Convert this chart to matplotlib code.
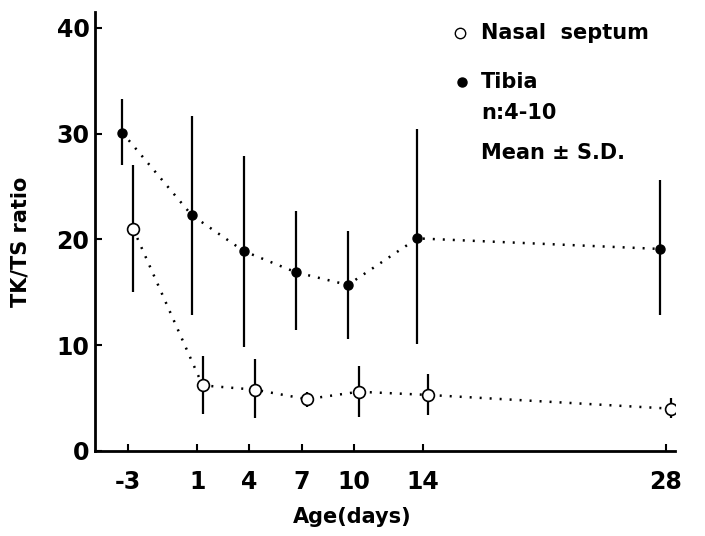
import numpy as np
import matplotlib
matplotlib.use('Agg')
import matplotlib.pyplot as plt

# Age (days) and TK/TS ratio
ages = [-3, 1, 4, 7, 10, 14, 28]
age_ticks = [-3, 1, 4, 7, 10, 14, 28]
y_ticks = [0, 10, 20, 30, 40]

tibia_mean = [30.1, 22.3, 18.9, 16.9, 15.7, 20.1, 19.1]
tibia_hi = [33.3, 31.7, 27.9, 22.7, 20.8, 30.4, 25.6]
tibia_lo = [27.0, 12.9, 9.8, 11.4, 10.6, 10.1, 12.9]

nasal_mean = [21.0, 6.2, 5.8, 4.9, 5.6, 5.3, 4.0]
nasal_hi = [27.0, 9.0, 8.7, 5.6, 8.0, 7.3, 5.0]
nasal_lo = [15.0, 3.5, 3.1, 4.2, 3.2, 3.4, 3.1]

plt.rcParams['font.family'] = ['DejaVu Sans']
plt.rcParams['font.weight'] = 'bold'

fig = plt.figure(figsize=(7.05, 5.36), dpi=100)
ax = fig.add_axes([0.1348, 0.1586, 0.822, 0.819])

# small horizontal offsets so the two series do not overlap
off_t = -0.33
off_n = 0.3
xt = np.array(ages) + off_t
xn = np.array(ages) + off_n

dots = (0, (0.8, 3.2))

# Tibia
ax.plot(xt, tibia_mean, color='black', lw=1.8, linestyle=dots, zorder=2)
ax.vlines(xt, tibia_lo, tibia_hi, color='black', lw=1.6, zorder=3)
ax.plot(xt, tibia_mean, 'o', ms=6.5, color='black', zorder=4)

# Nasal septum
ax.plot(xn, nasal_mean, color='black', lw=1.8, linestyle=dots, zorder=2)
ax.vlines(xn, nasal_lo, nasal_hi, color='black', lw=1.6, zorder=3)
ax.plot(xn, nasal_mean, 'o', ms=8.5, mfc='white', mec='black', mew=1.2, zorder=4)

ax.set_xlim(-4.9, 28.5)
ax.set_ylim(0, 41.5)
ax.set_xticks(age_ticks)
ax.set_xticklabels([str(a) for a in age_ticks])
ax.set_yticks(y_ticks)

for s in ['top', 'right']:
    ax.spines[s].set_visible(False)
for s in ['left', 'bottom']:
    ax.spines[s].set_linewidth(2)

ax.tick_params(axis='x', direction='in', length=5, width=1.5, pad=14, labelsize=17)
ax.tick_params(axis='y', direction='in', length=5, width=1.5, pad=4, labelsize=17)

ax.set_xlabel('Age(days)', fontsize=15, fontweight='bold')
ax.xaxis.set_label_coords(0.444, -0.128)
ax.set_ylabel('TK/TS ratio', fontsize=15, fontweight='bold')
ax.yaxis.set_label_coords(-0.112, 0.476)

# legend drawn by hand in figure pixels
def fx(px):
    return px / 705.0

def fy(py):
    return 1 - py / 536.0

fig.lines.append(plt.Line2D([fx(460)], [fy(33)], marker='o', ms=7.5, mfc='white',
                            mec='black', mew=1.0, transform=fig.transFigure))
fig.lines.append(plt.Line2D([fx(462)], [fy(82)], marker='o', ms=6.5, color='black',
                            transform=fig.transFigure))
fig.text(fx(481), fy(33), 'Nasal  septum', fontsize=15, fontweight='bold', va='center')
fig.text(fx(481), fy(82), 'Tibia', fontsize=15, fontweight='bold', va='center')
fig.text(fx(481), fy(113), 'n:4-10', fontsize=15, fontweight='bold', va='center')
fig.text(fx(481), fy(153), 'Mean ± S.D.', fontsize=15, fontweight='bold', va='center')

fig.savefig('out.png', dpi=100)
